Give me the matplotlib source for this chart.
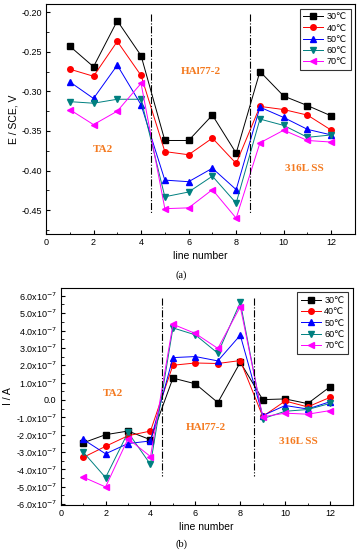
import numpy as np
import matplotlib
matplotlib.use('Agg')
import matplotlib.pyplot as plt
from matplotlib.ticker import MultipleLocator, FuncFormatter

plt.rcParams['font.family'] = ['Liberation Sans', 'DejaVu Sans']
plt.rcParams['axes.unicode_minus'] = False

# line numbers and temperatures
lines = [1, 2, 3, 4, 5, 6, 7, 8, 9, 10, 11, 12]
temps = ['30℃', '40℃', '50℃', '60℃', '70℃']

# (a) potential E / SCE, V
E_30 = [-0.243, -0.269, -0.211, -0.255, -0.362, -0.362, -0.330, -0.378, -0.275, -0.306, -0.318, -0.331]
E_40 = [-0.272, -0.281, -0.237, -0.280, -0.376, -0.380, -0.359, -0.391, -0.319, -0.323, -0.330, -0.349]
E_50 = [-0.288, -0.309, -0.267, -0.317, -0.412, -0.414, -0.397, -0.424, -0.320, -0.333, -0.348, -0.355]
E_60 = [-0.313, -0.315, -0.310, -0.310, -0.433, -0.427, -0.407, -0.441, -0.335, -0.343, -0.358, -0.355]
E_70 = [-0.323, -0.342, -0.325, -0.290, -0.448, -0.447, -0.424, -0.460, -0.365, -0.349, -0.362, -0.364]

# (b) current I / A (in units of 1e-7)
I_30 = [-2.47, -2.00, -1.79, -2.29, 1.26, 0.93, -0.15, 2.17, 0.02, 0.06, -0.21, 0.76]
I_40 = [-3.31, -2.67, -2.06, -1.79, 2.00, 2.13, 2.10, 2.27, -0.95, -0.06, -0.40, 0.15]
I_50 = [-2.27, -3.10, -2.51, -2.36, 2.44, 2.50, 2.25, 3.73, -0.90, -0.32, -0.52, -0.10]
I_60 = [-2.99, -4.47, -1.87, -3.71, 4.15, 3.75, 2.69, 5.62, -1.08, -0.65, -0.55, -0.20]
I_70 = [-4.44, -5.01, -2.23, -3.26, 4.36, 3.83, 2.97, 5.37, -0.97, -0.76, -0.82, -0.61]

# region boundaries (x) and labels
bounds_a = [4.4, 8.6]
bounds_b = [4.5, 8.63]
regions = ['TA2', 'HAl77-2', '316L SS']

colors = ['black', 'red', 'blue', '#008080', 'magenta']
markers = ['s', 'o', '^', 'v', '<']
orange = '#F47A20'

fig = plt.figure(figsize=(3.59, 5.5), dpi=100)
ax1 = fig.add_axes([0.128, 0.5745, 0.861, 0.418])
ax2 = fig.add_axes([0.169, 0.0818, 0.813, 0.3946])

for ser, c, m, t in zip([E_30, E_40, E_50, E_60, E_70], colors, markers, temps):
    ax1.plot(lines, ser, color=c, marker=m, ms=4, lw=0.7, label=t)
for ser, c, m, t in zip([I_30, I_40, I_50, I_60, I_70], colors, markers, temps):
    ax2.plot(lines, np.array(ser) * 1e-7, color=c, marker=m, ms=4, lw=0.7, label=t)

# dash-dot separators
for b in bounds_a:
    ax1.plot([b, b], [-0.202, -0.453], color='black', ls='-.', lw=0.8)
for b in bounds_b:
    ax2.plot([b, b], [5.9e-7, -4.4e-7], color='black', ls='-.', lw=0.8)

tfont = dict(family=['Liberation Serif', 'DejaVu Serif'], color=orange, fontweight='bold', fontsize=8, ha='center', va='center')
ax1.text(2.4, -0.374, regions[0], **tfont)
ax1.text(6.5, -0.275, regions[1], **tfont)
ax1.text(10.85, -0.397, regions[2], **tfont)
ax2.text(2.35, 0.4e-7, regions[0], **tfont)
ax2.text(6.46, -1.6e-7, regions[1], **tfont)
ax2.text(10.6, -2.42e-7, regions[2], **tfont)

ax1.set_xlim(0, 13)
ax1.set_ylim(-0.48, -0.19)
ax1.yaxis.set_major_locator(MultipleLocator(0.05))
ax1.yaxis.set_minor_locator(MultipleLocator(0.025))
ax1.yaxis.set_major_formatter(FuncFormatter(lambda v, p: '%.2f' % v))
ax1.set_ylabel('E / SCE, V', fontsize=7.5, labelpad=2)

ax2.set_xlim(0, 13)
ax2.set_ylim(-6.05e-7, 6.45e-7)
ax2.yaxis.set_major_locator(MultipleLocator(1e-7))
ax2.yaxis.set_minor_locator(MultipleLocator(0.5e-7))

def fmt_i(v, p):
    if abs(v) < 1e-12:
        return '0.0'
    return '%.1fx10$^{-7}$' % (v / 1e-7)

ax2.yaxis.set_major_formatter(FuncFormatter(fmt_i))
ax2.set_ylabel('I / A', fontsize=7.5, labelpad=2)

for ax in (ax1, ax2):
    ax.xaxis.set_major_locator(MultipleLocator(2))
    ax.xaxis.set_minor_locator(MultipleLocator(1))
    ax.tick_params(which='both', direction='in', labelsize=6.5, pad=3)
    ax.tick_params(which='major', length=3)
    ax.tick_params(which='minor', length=1.8)
    ax.set_xlabel('line number', fontsize=7.5, labelpad=3)
    for s in ax.spines.values():
        s.set_linewidth(0.8)
    leg = ax.legend(loc='upper right', fontsize=6.5, frameon=True, fancybox=False,
                    edgecolor='black', handlelength=2.2, handletextpad=0.4,
                    labelspacing=0.25, borderpad=0.4, borderaxespad=0.5)
    leg.get_frame().set_linewidth(0.8)

cfont = dict(family=['Liberation Serif', 'DejaVu Serif'], fontsize=7.5, ha='center', va='center')
fig.text(0.505, 1 - 275 / 550, '(a)', **cfont)
fig.text(0.505, 1 - 544 / 550, '(b)', **cfont)

fig.savefig('out.png', dpi=100)
